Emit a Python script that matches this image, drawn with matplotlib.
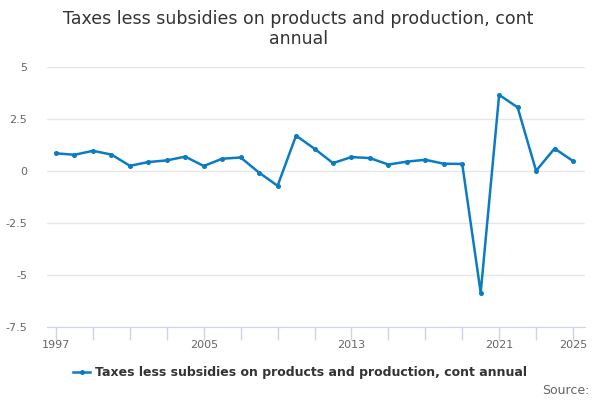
import matplotlib
matplotlib.use("Agg")
import matplotlib.pyplot as plt
from matplotlib.lines import Line2D

years = list(range(1997, 2026))
values = [0.85, 0.78, 0.97, 0.79, 0.25, 0.43, 0.51, 0.69, 0.24, 0.59,
          0.65, -0.08, -0.71, 1.70, 1.07, 0.38, 0.67, 0.62, 0.31, 0.45,
          0.54, 0.35, 0.34, -5.85, 3.66, 3.06, 0.01, 1.08, 0.48]
yticks = [5, 2.5, 0, -2.5, -5, -7.5]
ytick_labels = ["5", "2.5", "0", "-2.5", "-5", "-7.5"]
xlabel_years = [1997, 2005, 2013, 2021, 2025]
title = "Taxes less subsidies on products and production, cont\nannual"
series_name = "Taxes less subsidies on products and production, cont annual"

color = "#0c7cc2"
fig = plt.figure(figsize=(6, 4), dpi=100)
ax = fig.add_axes([0.078, 0.1825, 0.897, 0.65])
ax.plot(years, values, color=color, lw=1.8, marker="o", ms=2.6)
ax.set_ylim(-7.5, 5)
ax.set_xlim(1996.5, 2025.65)
ax.set_yticks(yticks)
ax.set_yticklabels(ytick_labels)
xt = list(range(1997, 2026, 2))
ax.set_xticks(xt)
ax.set_xticklabels([str(y) if y in xlabel_years else "" for y in xt])
ax.tick_params(axis="x", length=9, color="#ccd6eb", width=1, labelsize=8,
               labelcolor="#666666", pad=0)
ax.tick_params(axis="y", length=0, labelsize=8, labelcolor="#666666", pad=14)
ax.grid(axis="y", color="#e6e6e6", lw=1)
ax.set_axisbelow(True)
for s in ["top", "right", "left"]:
    ax.spines[s].set_visible(False)
ax.spines["bottom"].set_color("#ccd6eb")

fig.text(0.497, 0.975, title, ha="center", va="top", fontsize=12.5, color="#333333", linespacing=1.15)

h = Line2D([0], [0], color=color, lw=1.8, marker="o", ms=2.6)
fig.legend([h], [series_name], loc="center", bbox_to_anchor=(0.5, 0.068), frameon=False,
           prop={"weight": "bold", "size": 9.0}, labelcolor="#333333", handlelength=1.4,
           handletextpad=0.4)
fig.text(0.982, 0.025, "Source:", ha="right", va="center", fontsize=9, color="#666666")
fig.savefig("out.png", dpi=100, facecolor="white")
